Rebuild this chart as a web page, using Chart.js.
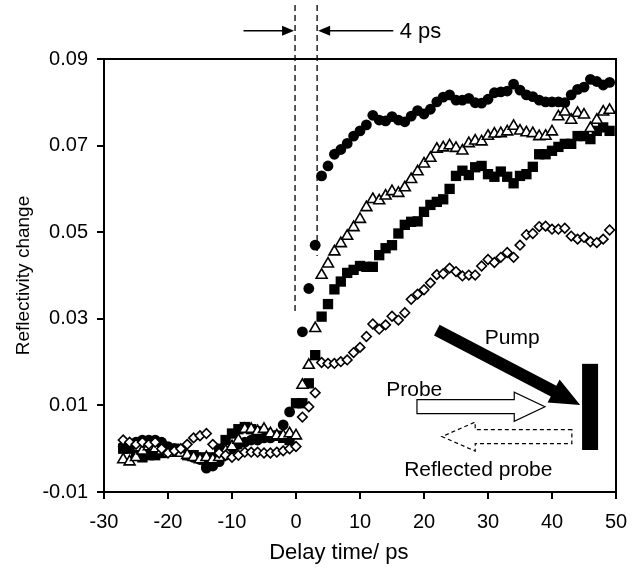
<!DOCTYPE html>
<html>
<head>
<meta charset="utf-8">
<script src="https://cdn.jsdelivr.net/npm/chart.js@4.4.0/dist/chart.umd.min.js"></script>
<style>
  html, body { margin: 0; padding: 0; background: #fff; }
</style>
</head>
<body>
<canvas id="chart" width="639" height="572"></canvas>
<script>
// delay time (ps), shared by all four series
const delays = [-27, -26, -25, -24, -23, -22, -21, -20, -19, -18, -17, -16, -15, -14, -13, -12, -11, -10,
  -9, -8, -7, -6, -5, -4, -3, -2, -1, 0, 1, 2, 3, 4, 5, 6, 7, 8, 9, 10, 11, 12, 13, 14, 15, 16, 17, 18, 19,
  20, 21, 22, 23, 24, 25, 26, 27, 28, 29, 30, 31, 32, 33, 34, 35, 36, 37, 38, 39, 40, 41, 42, 43, 44, 45,
  46, 47, 48, 49];

// filled circles
const circles = [0.0005, 0.001, 0.0015, 0.002, 0.002, 0.002, 0.0015, 0.0005, 0.0, -0.0005, -0.0015, -0.002, -0.0025, -0.0045, -0.004, -0.003, -0.0015, 0.0,
  0.001, 0.0015, 0.002, 0.002, 0.0025, 0.0025, 0.003, 0.0055, 0.0085, null, 0.027, 0.037, 0.047, 0.063, 0.0653, 0.068, 0.0691, 0.0705, 0.0722, 0.0734, 0.0748, 0.077, 0.0759, 0.0757, 0.0767, 0.0759, 0.0755, 0.0768, 0.0781,
  0.0773, 0.0784, 0.0801, 0.0812, 0.0817, 0.0805, 0.0805, 0.0809, 0.0799, 0.0798, 0.0807, 0.0822, 0.0824, 0.0826, 0.0842, 0.0828, 0.0817, 0.0813, 0.0805, 0.0801, 0.0801, 0.0801, 0.0799, 0.0817, 0.083, 0.0835,
  0.0853, 0.0848, 0.084, 0.0846];

// open triangles
const triangles = [-0.0025, -0.003, -0.002, -0.0005, 0.0005, 0.0, -0.0005, -0.001, -0.0005, -0.001, -0.0015, -0.002, -0.0025, -0.002, -0.0025, -0.002, -0.0005, 0.0005,
  0.002, 0.0045, 0.0045, 0.004, 0.0045, 0.0035, 0.003, 0.003, 0.0035, 0.003, 0.0147, 0.0193, 0.0278, 0.0401, 0.0427, 0.0455, 0.0474, 0.0491, 0.0511, 0.053, 0.0557, 0.0576, 0.0573, 0.0584, 0.0594, 0.059, 0.0603, 0.0622, 0.064,
  0.0658, 0.0671, 0.0692, 0.0695, 0.07, 0.0694, 0.0688, 0.0705, 0.0711, 0.0709, 0.0722, 0.0727, 0.0728, 0.0732, 0.0745, 0.0734, 0.073, 0.0728, 0.0721, 0.0722, 0.0732, 0.0767, 0.0778, 0.0759, 0.0775, 0.0771,
  0.074, 0.0759, 0.0778, 0.0782];

// filled squares
const squares = [0.0, 0.0, -0.0015, -0.002, -0.0015, -0.0015, -0.001, -0.0005, 0.0, -0.0005, -0.0015, -0.0015, -0.002, -0.0035, -0.002, 0.0, 0.002, 0.0035,
  0.0045, 0.005, 0.0045, 0.004, 0.0035, 0.003, 0.003, 0.0025, 0.002, 0.0105, 0.0105, 0.0151, 0.0216, 0.0305, 0.0334, 0.0368, 0.0386, 0.0406, 0.0413, 0.0422, 0.042, 0.042, 0.0447, 0.0463, 0.047, 0.0497, 0.0517, 0.0524, 0.0525,
  0.0547, 0.0563, 0.057, 0.0576, 0.06, 0.063, 0.0642, 0.0632, 0.065, 0.0653, 0.0634, 0.0628, 0.064, 0.0628, 0.0613, 0.063, 0.0634, 0.0651, 0.068, 0.068, 0.0688, 0.0697, 0.0704, 0.0704, 0.0722, 0.0722,
  0.0715, 0.0734, 0.0742, 0.0734];

// open diamonds
const diamonds = [0.002, 0.0015, 0.001, 0.0015, 0.001, 0.0015, 0.0, -0.001, -0.0005, 0.0, 0.001, 0.0025, 0.003, 0.0035, 0.001, -0.001, -0.0015, -0.002,
  -0.0015, -0.0008, -0.0008, -0.0008, -0.001, -0.001, -0.0008, -0.0005, 0.0, 0.0005, 0.0073, 0.0097, 0.0129, 0.0199, 0.0197, 0.0197, 0.0201, 0.0205, 0.0222, 0.0234, 0.0259, 0.0288, 0.0276, 0.0286, 0.0306, 0.0297, 0.0314, 0.0345, 0.0357,
  0.0367, 0.0383, 0.0402, 0.0404, 0.0417, 0.0409, 0.0399, 0.0401, 0.0401, 0.0422, 0.0437, 0.043, 0.0442, 0.0453, 0.0442, 0.047, 0.0494, 0.0497, 0.0513, 0.0514, 0.0507, 0.0507, 0.0509, 0.0491, 0.0484, 0.0488,
  0.0478, 0.0476, 0.0484, 0.0505];

const xTicks = { min: -30, max: 50, step: 10 };
const yTicks = { min: -0.01, max: 0.09, step: 0.02 };

// annotation anchors, in data units
const pumpStart = [22.0, 0.0274], pumpTip = [44.4, 0.0101];
const mirror = [44.7, 47.2, 0.0196, -0.0003];          // x0, x1, yTop, yBottom
const probe = [18.9, 34.1, 38.9, 0.0097];               // tail, head base, tip, y
const reflected = [43.1, 28.0, 22.8, 0.0028];
const gateLines = [[-0.15, 0.0313], [3.3, 0.0445]];     // x, lower end
const gateTop = 0.1025, gateArrowY = 0.0965;

const FONT = 'Liberation Sans';

function pts(arr) {
  return delays.map((d, i) => ({ x: d, y: arr[i] })).filter(p => p.y !== null);
}

function head(ctx, tipX, tipY, dir) {
  ctx.beginPath();
  ctx.moveTo(tipX, tipY);
  ctx.lineTo(tipX - dir * 12, tipY - 5);
  ctx.lineTo(tipX - dir * 12, tipY + 5);
  ctx.closePath();
  ctx.fill();
}

function openArrow(ctx, tail, base, tip, cy) {
  const s = 7, H = 14.5;
  ctx.beginPath();
  ctx.moveTo(tail, cy - s);
  ctx.lineTo(base, cy - s);
  ctx.lineTo(base, cy - H);
  ctx.lineTo(tip, cy);
  ctx.lineTo(base, cy + H);
  ctx.lineTo(base, cy + s);
  ctx.lineTo(tail, cy + s);
  ctx.closePath();
  ctx.fill();
  ctx.stroke();
}

const annot = {
  id: 'annot',
  afterDraw(chart) {
    const { ctx, chartArea: a, scales: { x, y } } = chart;
    ctx.save();

    // top and right frame
    ctx.strokeStyle = '#000';
    ctx.lineWidth = 2;
    ctx.beginPath();
    ctx.moveTo(a.left - 1, a.top);
    ctx.lineTo(a.right, a.top);
    ctx.lineTo(a.right, a.bottom + 1);
    ctx.stroke();

    // dashed gate lines
    ctx.lineWidth = 1.3;
    ctx.setLineDash([6, 4]);
    gateLines.forEach(([gx, gy]) => {
      ctx.beginPath();
      ctx.moveTo(x.getPixelForValue(gx), y.getPixelForValue(gateTop));
      ctx.lineTo(x.getPixelForValue(gx), y.getPixelForValue(gy));
      ctx.stroke();
    });
    ctx.setLineDash([]);

    // 4 ps arrows
    const ay = y.getPixelForValue(gateArrowY);
    const g0 = x.getPixelForValue(gateLines[0][0]), g1 = x.getPixelForValue(gateLines[1][0]);
    ctx.fillStyle = '#000';
    ctx.lineWidth = 1.5;
    ctx.beginPath();
    ctx.moveTo(x.getPixelForValue(-8.2), ay);
    ctx.lineTo(g0 - 10, ay);
    ctx.moveTo(x.getPixelForValue(15.2), ay);
    ctx.lineTo(g1 + 10, ay);
    ctx.stroke();
    head(ctx, g0 - 1, ay, 1);
    head(ctx, g1 + 1, ay, -1);
    ctx.font = '22px "' + FONT + '"';
    ctx.textBaseline = 'middle';
    ctx.textAlign = 'left';
    ctx.fillText('4 ps', x.getPixelForValue(16.2), ay + 1);

    // pump arrow
    const p0x = x.getPixelForValue(pumpStart[0]), p0y = y.getPixelForValue(pumpStart[1]);
    const p1x = x.getPixelForValue(pumpTip[0]), p1y = y.getPixelForValue(pumpTip[1]);
    const len = Math.hypot(p1x - p0x, p1y - p0y);
    const dx = (p1x - p0x) / len, dy = (p1y - p0y) / len;
    const nx = -dy, ny = dx;
    const w = 6, hw = 13, hl = 30;
    const bx = p1x - dx * hl, by = p1y - dy * hl;
    ctx.beginPath();
    ctx.moveTo(p0x + nx * w, p0y + ny * w);
    ctx.lineTo(bx + nx * w, by + ny * w);
    ctx.lineTo(bx + nx * hw, by + ny * hw);
    ctx.lineTo(p1x, p1y);
    ctx.lineTo(bx - nx * hw, by - ny * hw);
    ctx.lineTo(bx - nx * w, by - ny * w);
    ctx.lineTo(p0x - nx * w, p0y - ny * w);
    ctx.closePath();
    ctx.fill();

    // sample (mirror) bar
    const mx0 = x.getPixelForValue(mirror[0]), mx1 = x.getPixelForValue(mirror[1]);
    const my0 = y.getPixelForValue(mirror[2]), my1 = y.getPixelForValue(mirror[3]);
    ctx.fillRect(mx0, my0, mx1 - mx0, my1 - my0);

    // probe and reflected probe
    ctx.fillStyle = '#fff';
    ctx.lineWidth = 1.2;
    openArrow(ctx, x.getPixelForValue(probe[0]), x.getPixelForValue(probe[1]),
      x.getPixelForValue(probe[2]), y.getPixelForValue(probe[3]));
    ctx.setLineDash([4, 3]);
    openArrow(ctx, x.getPixelForValue(reflected[0]), x.getPixelForValue(reflected[1]),
      x.getPixelForValue(reflected[2]), y.getPixelForValue(reflected[3]));
    ctx.setLineDash([]);

    ctx.fillStyle = '#000';
    ctx.font = '21px "' + FONT + '"';
    ctx.textBaseline = 'alphabetic';
    ctx.fillText('Pump', x.getPixelForValue(29.5), y.getPixelForValue(0.0242));
    ctx.fillText('Probe', x.getPixelForValue(14.1), y.getPixelForValue(0.0122));
    ctx.fillText('Reflected probe', x.getPixelForValue(16.9), y.getPixelForValue(-0.0063));

    // x axis title
    ctx.font = '22px "' + FONT + '"';
    ctx.textAlign = 'center';
    ctx.textBaseline = 'middle';
    ctx.fillText('Delay time/ ps', x.getPixelForValue(6.7), 553);

    ctx.restore();
  }
};

const axisGrid = { display: true, drawOnChartArea: false, drawTicks: true, tickLength: 7, color: '#000', lineWidth: 2 };
const axisBorder = { display: true, color: '#000', width: 2 };

new Chart(document.getElementById('chart'), {
  type: 'scatter',
  data: {
    datasets: [
      { label: 'diamonds', data: pts(diamonds), pointStyle: 'rectRot', pointRadius: 4.8,
        backgroundColor: '#fff', borderColor: '#000', borderWidth: 1.6 },
      { label: 'triangles', data: pts(triangles), pointStyle: 'triangle', pointRadius: 6.3,
        backgroundColor: '#fff', borderColor: '#000', borderWidth: 1.6 },
      { label: 'squares', data: pts(squares), pointStyle: 'rect', pointRadius: 7.3,
        backgroundColor: '#000', borderColor: '#000', borderWidth: 0 },
      { label: 'circles', data: pts(circles), pointStyle: 'circle', pointRadius: 5.4,
        backgroundColor: '#000', borderColor: '#000', borderWidth: 0 }
    ]
  },
  options: {
    responsive: false,
    animation: false,
    devicePixelRatio: 1,
    layout: { padding: { top: 59, right: 23, bottom: 0, left: 0 } },
    plugins: { legend: { display: false }, tooltip: { enabled: false } },
    scales: {
      x: {
        type: 'linear', min: xTicks.min, max: xTicks.max,
        ticks: { stepSize: xTicks.step, color: '#000', padding: 11, maxRotation: 0,
          font: { family: FONT, size: 20 } },
        grid: axisGrid, border: axisBorder,
        afterFit(s) { s.height = 80; }
      },
      y: {
        type: 'linear', min: yTicks.min, max: yTicks.max,
        ticks: { stepSize: yTicks.step, color: '#000', padding: 9,
          font: { family: FONT, size: 20 },
          callback: v => v.toFixed(2) },
        grid: axisGrid, border: axisBorder,
        title: { display: true, text: 'Reflectivity change', color: '#000',
          font: { family: FONT, size: 19 }, padding: { top: 12, bottom: 0 } },
        afterFit(s) { s.width = 104; }
      }
    }
  },
  plugins: [annot]
});
</script>
</body>
</html>
